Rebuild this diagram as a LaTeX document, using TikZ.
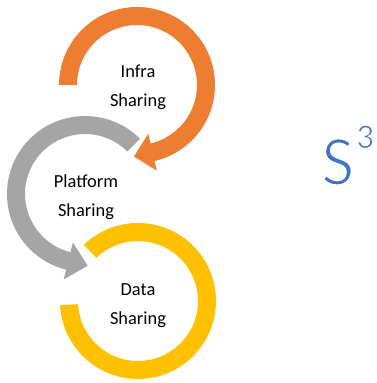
\documentclass[tikz,border=0pt]{standalone}
\usepackage{fontspec}
\setmainfont{Carlito}
\usetikzlibrary{calc}
\definecolor{orangeA}{HTML}{ED7D31}
\definecolor{grayA}{HTML}{A5A5A5}
\definecolor{yellowA}{HTML}{FFC000}
\definecolor{blueA}{HTML}{4472C4}
\newcommand{\thinglyph}[2]{\special{pdf:literal direct 2 Tr #1 w 1 1 1 RG}#2\special{pdf:literal direct 0 Tr}}
\begin{document}
\begin{tikzpicture}[x=1pt,y=1pt,
  lbl/.style={font=\fontsize{18.4}{22}\selectfont, anchor=base, inner sep=0pt},
  bigs/.style={font=\fontsize{72}{80}\selectfont, text=blueA, anchor=base west, inner sep=0pt},
  sup3/.style={font=\fontsize{35}{40}\selectfont, text=blueA, anchor=base west, inner sep=0pt}]
\useasboundingbox (0,0) rectangle (377,383);
\coordinate (oc) at (137,298);
\coordinate (gc) at (85,189);
\coordinate (yc) at (138,82);
% orange curved arrow
\fill[orangeA] ($(oc)+(180:78)$) arc[start angle=180,end angle=-77,radius=78pt]
  -- ($(oc)+(-77:88)$) -- ($(oc)+(-77:69)+(-167:19)$) -- ($(oc)+(-77:50)$)
  -- ($(oc)+(-77:60)$) arc[start angle=-77,end angle=180,radius=60pt] -- cycle;
% gray curved arrow
\fill[grayA] ($(gc)+(45:78)$) arc[start angle=45,end angle=256,radius=78pt]
  -- ($(gc)+(256:88)$) -- ($(gc)+(256:69)+(346:20)$) -- ($(gc)+(256:50)$)
  -- ($(gc)+(256:60)$) arc[start angle=256,end angle=45,radius=60pt] -- cycle;
% yellow arc
\fill[yellowA] ($(yc)+(134:78)$) arc[start angle=134,end angle=-177,radius=78pt]
  -- ($(yc)+(-177:60)$) arc[start angle=-177,end angle=134,radius=60pt] -- cycle;
% labels
\node[lbl] (infra) at (138,305) {Infra};
\node[lbl] (infra2) at (138,276) {Sharing};
\node[lbl] (plat) at (86,195) {Platform};
\node[lbl] (plat2) at (86,166) {Sharing};
\node[lbl] (data) at (138,87) {Data};
\node[lbl] (data2) at (138,58) {Sharing};
\node[bigs] (s) at (321,198) {\thinglyph{2.2}{S}};
\node[sup3] (three) at (356,235) {\thinglyph{0.8}{3}};
\end{tikzpicture}
\end{document}
